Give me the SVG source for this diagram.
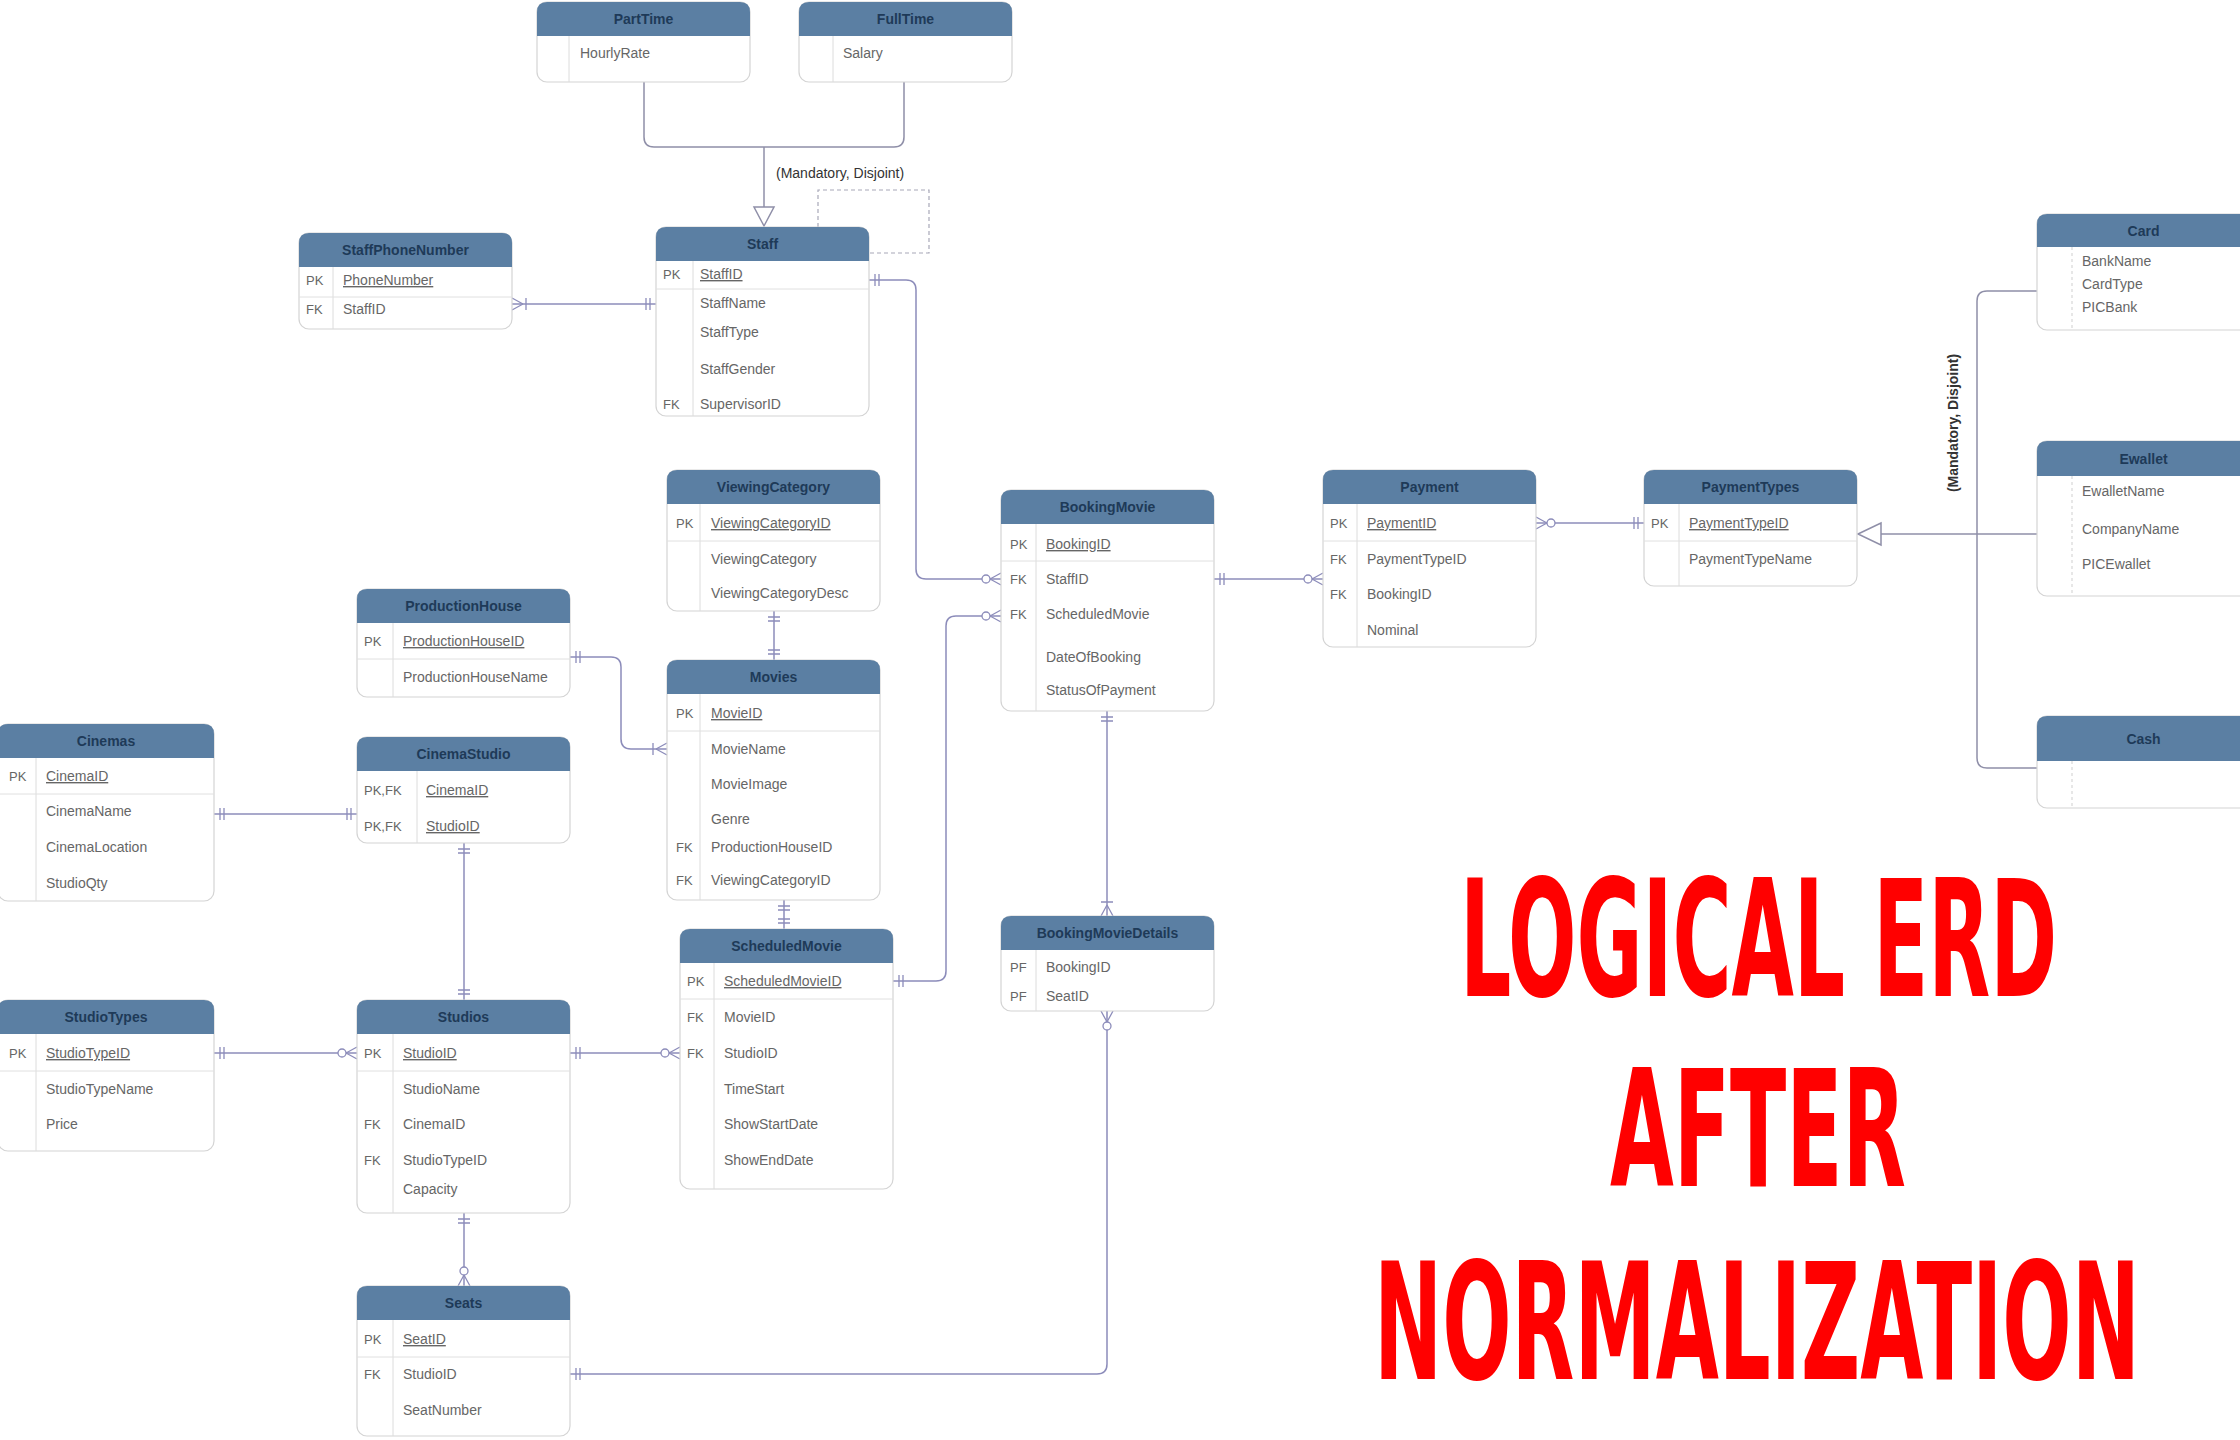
<svg xmlns="http://www.w3.org/2000/svg" width="2240" height="1440" viewBox="0 0 2240 1440">
<style>
.box{fill:#fff;stroke:#d4d4d4;stroke-width:1.2}
.hdr{fill:#5b7fa3}
.t{font-family:"Liberation Sans",Arial,sans-serif;font-size:14px;font-weight:bold;fill:#1e3a58;text-anchor:middle}
.a{font-family:"Liberation Sans",Arial,sans-serif;font-size:14px;fill:#666}
.k{font-family:"Liberation Sans",Arial,sans-serif;font-size:13px;fill:#666}
.u{text-decoration:underline}
.dv{stroke:#dcdcdc;stroke-width:1}
.dd{stroke:#cfcfcf;stroke-width:1;stroke-dasharray:3 3}
.sep{stroke:#e0e0e0;stroke-width:1}
.c{fill:none;stroke:#8c8cba;stroke-width:1.5}
.g{fill:none;stroke:#8f8fa8;stroke-width:1.5}
.dash{fill:none;stroke:#a8a8b8;stroke-width:1.2;stroke-dasharray:4 3}
.lbl{font-family:"Liberation Sans",Arial,sans-serif;font-size:14px;fill:#333}
.big{font-family:"DejaVu Sans Condensed","DejaVu Sans",sans-serif;font-weight:bold;font-size:162px;fill:#ff0000}
</style>
<defs>
<marker id="one" viewBox="-24 -10 26 20" refX="0" refY="0" markerWidth="26" markerHeight="20" markerUnits="userSpaceOnUse" orient="auto-start-reverse">
<path d="M-6,-6V6M-10,-6V6" stroke="#8c8cba" stroke-width="1.3" fill="none"/>
</marker>
<marker id="crowbar" viewBox="-24 -10 26 20" refX="0" refY="0" markerWidth="26" markerHeight="20" markerUnits="userSpaceOnUse" orient="auto-start-reverse">
<path d="M-11,0L0,-6M-11,0L0,6M-14,-6V6" stroke="#8c8cba" stroke-width="1.3" fill="none"/>
</marker>
<marker id="crowcircle" viewBox="-24 -10 26 20" refX="0" refY="0" markerWidth="26" markerHeight="20" markerUnits="userSpaceOnUse" orient="auto-start-reverse">
<path d="M-11,0L0,-6M-11,0L0,6" stroke="#8c8cba" stroke-width="1.3" fill="none"/>
<circle cx="-15" cy="0" r="4" fill="#fff" stroke="#8c8cba" stroke-width="1.3"/>
</marker>
</defs>
<rect x="0" y="0" width="2240" height="1440" fill="#fff"/>

<g id="connectors">
<path class="c" d="M656,304 H512" marker-start="url(#one)" marker-end="url(#crowbar)"/>
<path class="c" d="M869,280 H906 Q916,280 916,290 V569 Q916,579 926,579 H1001" marker-start="url(#one)" marker-end="url(#crowcircle)"/>
<path class="c" d="M774,611 V660" marker-start="url(#one)" marker-end="url(#one)"/>
<path class="c" d="M570,657 H611 Q621,657 621,667 V739 Q621,749 631,749 H667" marker-start="url(#one)" marker-end="url(#crowbar)"/>
<path class="c" d="M214,814 H357" marker-start="url(#one)" marker-end="url(#one)"/>
<path class="c" d="M464,843 V1000" marker-start="url(#one)" marker-end="url(#one)"/>
<path class="c" d="M214,1053 H357" marker-start="url(#one)" marker-end="url(#crowcircle)"/>
<path class="c" d="M570,1053 H680" marker-start="url(#one)" marker-end="url(#crowcircle)"/>
<path class="c" d="M464,1213 V1286" marker-start="url(#one)" marker-end="url(#crowcircle)"/>
<path class="c" d="M784,900 V929" marker-start="url(#one)" marker-end="url(#one)"/>
<path class="c" d="M893,981 H936 Q946,981 946,971 V626 Q946,616 956,616 H1001" marker-start="url(#one)" marker-end="url(#crowcircle)"/>
<path class="c" d="M1107,711 V916" marker-start="url(#one)" marker-end="url(#crowbar)"/>
<path class="c" d="M570,1374 H1097 Q1107,1374 1107,1364 V1011" marker-start="url(#one)" marker-end="url(#crowcircle)"/>
<path class="c" d="M1214,579 H1323" marker-start="url(#one)" marker-end="url(#crowcircle)"/>
<path class="c" d="M1644,523 H1536" marker-start="url(#one)" marker-end="url(#crowcircle)"/>
<path class="g" d="M644,82 V137 Q644,147 654,147 H894 Q904,147 904,137 V82"/>
<path class="g" d="M764,147 V207"/>
<polygon points="754,207 774,207 764,226" fill="#fff" stroke="#8f8fa8" stroke-width="1.5"/>
<path class="dash" d="M818,227 V190 H929 V253 H869"/>
<text class="lbl" x="776" y="178">(Mandatory, Disjoint)</text>
<path class="g" d="M1881,534 H2037"/>
<path class="g" d="M2037,291 H1987 Q1977,291 1977,301 V758 Q1977,768 1987,768 H2037"/>
<polygon points="1858,534 1881,523 1881,545" fill="#fff" stroke="#8f8fa8" stroke-width="1.5"/>
<text class="lbl" transform="translate(1958,423) rotate(-90)" text-anchor="middle" font-weight="bold">(Mandatory, Disjoint)</text>
</g>

<g id="parttime">
<rect class="box" x="537" y="2" width="213" height="80" rx="10"/>
<path class="hdr" d="M537,36 V12 Q537,2 547,2 H740 Q750,2 750,12 V36 Z"/>
<text class="t" x="643.5" y="24">PartTime</text>
<line class="dv" x1="569" y1="36" x2="569" y2="82"/>
<text class="a" x="580" y="58">HourlyRate</text>
</g>

<g id="fulltime">
<rect class="box" x="799" y="2" width="213" height="80" rx="10"/>
<path class="hdr" d="M799,36 V12 Q799,2 809,2 H1002 Q1012,2 1012,12 V36 Z"/>
<text class="t" x="905.5" y="24">FullTime</text>
<line class="dv" x1="833" y1="36" x2="833" y2="82"/>
<text class="a" x="843" y="58">Salary</text>
</g>

<g id="staff">
<rect class="box" x="656" y="227" width="213" height="189" rx="10"/>
<path class="hdr" d="M656,261 V237 Q656,227 666,227 H859 Q869,227 869,237 V261 Z"/>
<text class="t" x="762.5" y="249">Staff</text>
<line class="dv" x1="693" y1="261" x2="693" y2="416"/>
<line class="sep" x1="656" y1="289" x2="869" y2="289"/>
<text class="k" x="663" y="279">PK</text><text class="a u" x="700" y="279">StaffID</text>
<text class="a" x="700" y="308">StaffName</text>
<text class="a" x="700" y="337">StaffType</text>
<text class="a" x="700" y="374">StaffGender</text>
<text class="k" x="663" y="409">FK</text><text class="a" x="700" y="409">SupervisorID</text>
</g>

<g id="staffphonenumber">
<rect class="box" x="299" y="233" width="213" height="96" rx="10"/>
<path class="hdr" d="M299,267 V243 Q299,233 309,233 H502 Q512,233 512,243 V267 Z"/>
<text class="t" x="405.5" y="255">StaffPhoneNumber</text>
<line class="dv" x1="333" y1="267" x2="333" y2="329"/>
<line class="sep" x1="299" y1="297" x2="512" y2="297"/>
<text class="k" x="306" y="285">PK</text><text class="a u" x="343" y="285">PhoneNumber</text>
<text class="k" x="306" y="314">FK</text><text class="a" x="343" y="314">StaffID</text>
</g>

<g id="viewingcategory">
<rect class="box" x="667" y="470" width="213" height="141" rx="10"/>
<path class="hdr" d="M667,504 V480 Q667,470 677,470 H870 Q880,470 880,480 V504 Z"/>
<text class="t" x="773.5" y="492">ViewingCategory</text>
<line class="dv" x1="700" y1="504" x2="700" y2="611"/>
<line class="sep" x1="667" y1="541" x2="880" y2="541"/>
<text class="k" x="676" y="528">PK</text><text class="a u" x="711" y="528">ViewingCategoryID</text>
<text class="a" x="711" y="564">ViewingCategory</text>
<text class="a" x="711" y="598">ViewingCategoryDesc</text>
</g>

<g id="movies">
<rect class="box" x="667" y="660" width="213" height="240" rx="10"/>
<path class="hdr" d="M667,694 V670 Q667,660 677,660 H870 Q880,660 880,670 V694 Z"/>
<text class="t" x="773.5" y="682">Movies</text>
<line class="dv" x1="700" y1="694" x2="700" y2="900"/>
<line class="sep" x1="667" y1="731" x2="880" y2="731"/>
<text class="k" x="676" y="718">PK</text><text class="a u" x="711" y="718">MovieID</text>
<text class="a" x="711" y="754">MovieName</text>
<text class="a" x="711" y="789">MovieImage</text>
<text class="a" x="711" y="824">Genre</text>
<text class="k" x="676" y="852">FK</text><text class="a" x="711" y="852">ProductionHouseID</text>
<text class="k" x="676" y="885">FK</text><text class="a" x="711" y="885">ViewingCategoryID</text>
</g>

<g id="productionhouse">
<rect class="box" x="357" y="589" width="213" height="108" rx="10"/>
<path class="hdr" d="M357,623 V599 Q357,589 367,589 H560 Q570,589 570,599 V623 Z"/>
<text class="t" x="463.5" y="611">ProductionHouse</text>
<line class="dv" x1="393" y1="623" x2="393" y2="697"/>
<line class="sep" x1="357" y1="659" x2="570" y2="659"/>
<text class="k" x="364" y="646">PK</text><text class="a u" x="403" y="646">ProductionHouseID</text>
<text class="a" x="403" y="682">ProductionHouseName</text>
</g>

<g id="cinemas">
<rect class="box" x="-2" y="724" width="216" height="177" rx="10"/>
<path class="hdr" d="M-2,758 V734 Q-2,724 8,724 H204 Q214,724 214,734 V758 Z"/>
<text class="t" x="106" y="746">Cinemas</text>
<line class="dv" x1="36" y1="758" x2="36" y2="901"/>
<line class="sep" x1="-2" y1="794" x2="214" y2="794"/>
<text class="k" x="9" y="781">PK</text><text class="a u" x="46" y="781">CinemaID</text>
<text class="a" x="46" y="816">CinemaName</text>
<text class="a" x="46" y="852">CinemaLocation</text>
<text class="a" x="46" y="888">StudioQty</text>
</g>

<g id="cinemastudio">
<rect class="box" x="357" y="737" width="213" height="106" rx="10"/>
<path class="hdr" d="M357,771 V747 Q357,737 367,737 H560 Q570,737 570,747 V771 Z"/>
<text class="t" x="463.5" y="759">CinemaStudio</text>
<line class="dv" x1="417" y1="771" x2="417" y2="843"/>
<text class="k" x="364" y="795">PK,FK</text><text class="a u" x="426" y="795">CinemaID</text>
<text class="k" x="364" y="831">PK,FK</text><text class="a u" x="426" y="831">StudioID</text>
</g>

<g id="studiotypes">
<rect class="box" x="-2" y="1000" width="216" height="151" rx="10"/>
<path class="hdr" d="M-2,1034 V1010 Q-2,1000 8,1000 H204 Q214,1000 214,1010 V1034 Z"/>
<text class="t" x="106" y="1022">StudioTypes</text>
<line class="dv" x1="36" y1="1034" x2="36" y2="1151"/>
<line class="sep" x1="-2" y1="1071" x2="214" y2="1071"/>
<text class="k" x="9" y="1058">PK</text><text class="a u" x="46" y="1058">StudioTypeID</text>
<text class="a" x="46" y="1094">StudioTypeName</text>
<text class="a" x="46" y="1129">Price</text>
</g>

<g id="studios">
<rect class="box" x="357" y="1000" width="213" height="213" rx="10"/>
<path class="hdr" d="M357,1034 V1010 Q357,1000 367,1000 H560 Q570,1000 570,1010 V1034 Z"/>
<text class="t" x="463.5" y="1022">Studios</text>
<line class="dv" x1="393" y1="1034" x2="393" y2="1213"/>
<line class="sep" x1="357" y1="1071" x2="570" y2="1071"/>
<text class="k" x="364" y="1058">PK</text><text class="a u" x="403" y="1058">StudioID</text>
<text class="a" x="403" y="1094">StudioName</text>
<text class="k" x="364" y="1129">FK</text><text class="a" x="403" y="1129">CinemaID</text>
<text class="k" x="364" y="1165">FK</text><text class="a" x="403" y="1165">StudioTypeID</text>
<text class="a" x="403" y="1194">Capacity</text>
</g>

<g id="scheduledmovie">
<rect class="box" x="680" y="929" width="213" height="260" rx="10"/>
<path class="hdr" d="M680,963 V939 Q680,929 690,929 H883 Q893,929 893,939 V963 Z"/>
<text class="t" x="786.5" y="951">ScheduledMovie</text>
<line class="dv" x1="714" y1="963" x2="714" y2="1189"/>
<line class="sep" x1="680" y1="999" x2="893" y2="999"/>
<text class="k" x="687" y="986">PK</text><text class="a u" x="724" y="986">ScheduledMovieID</text>
<text class="k" x="687" y="1022">FK</text><text class="a" x="724" y="1022">MovieID</text>
<text class="k" x="687" y="1058">FK</text><text class="a" x="724" y="1058">StudioID</text>
<text class="a" x="724" y="1094">TimeStart</text>
<text class="a" x="724" y="1129">ShowStartDate</text>
<text class="a" x="724" y="1165">ShowEndDate</text>
</g>

<g id="seats">
<rect class="box" x="357" y="1286" width="213" height="150" rx="10"/>
<path class="hdr" d="M357,1320 V1296 Q357,1286 367,1286 H560 Q570,1286 570,1296 V1320 Z"/>
<text class="t" x="463.5" y="1308">Seats</text>
<line class="dv" x1="393" y1="1320" x2="393" y2="1436"/>
<line class="sep" x1="357" y1="1357" x2="570" y2="1357"/>
<text class="k" x="364" y="1344">PK</text><text class="a u" x="403" y="1344">SeatID</text>
<text class="k" x="364" y="1379">FK</text><text class="a" x="403" y="1379">StudioID</text>
<text class="a" x="403" y="1415">SeatNumber</text>
</g>

<g id="bookingmovie">
<rect class="box" x="1001" y="490" width="213" height="221" rx="10"/>
<path class="hdr" d="M1001,524 V500 Q1001,490 1011,490 H1204 Q1214,490 1214,500 V524 Z"/>
<text class="t" x="1107.5" y="512">BookingMovie</text>
<line class="dv" x1="1036" y1="524" x2="1036" y2="711"/>
<line class="sep" x1="1001" y1="561" x2="1214" y2="561"/>
<text class="k" x="1010" y="549">PK</text><text class="a u" x="1046" y="549">BookingID</text>
<text class="k" x="1010" y="584">FK</text><text class="a" x="1046" y="584">StaffID</text>
<text class="k" x="1010" y="619">FK</text><text class="a" x="1046" y="619">ScheduledMovie</text>
<text class="a" x="1046" y="662">DateOfBooking</text>
<text class="a" x="1046" y="695">StatusOfPayment</text>
</g>

<g id="bookingmoviedetails">
<rect class="box" x="1001" y="916" width="213" height="95" rx="10"/>
<path class="hdr" d="M1001,950 V926 Q1001,916 1011,916 H1204 Q1214,916 1214,926 V950 Z"/>
<text class="t" x="1107.5" y="938">BookingMovieDetails</text>
<line class="dv" x1="1036" y1="950" x2="1036" y2="1011"/>
<text class="k" x="1010" y="972">PF</text><text class="a" x="1046" y="972">BookingID</text>
<text class="k" x="1010" y="1001">PF</text><text class="a" x="1046" y="1001">SeatID</text>
</g>

<g id="payment">
<rect class="box" x="1323" y="470" width="213" height="177" rx="10"/>
<path class="hdr" d="M1323,504 V480 Q1323,470 1333,470 H1526 Q1536,470 1536,480 V504 Z"/>
<text class="t" x="1429.5" y="492">Payment</text>
<line class="dv" x1="1357" y1="504" x2="1357" y2="647"/>
<line class="sep" x1="1323" y1="541" x2="1536" y2="541"/>
<text class="k" x="1330" y="528">PK</text><text class="a u" x="1367" y="528">PaymentID</text>
<text class="k" x="1330" y="564">FK</text><text class="a" x="1367" y="564">PaymentTypeID</text>
<text class="k" x="1330" y="599">FK</text><text class="a" x="1367" y="599">BookingID</text>
<text class="a" x="1367" y="635">Nominal</text>
</g>

<g id="paymenttypes">
<rect class="box" x="1644" y="470" width="213" height="116" rx="10"/>
<path class="hdr" d="M1644,504 V480 Q1644,470 1654,470 H1847 Q1857,470 1857,480 V504 Z"/>
<text class="t" x="1750.5" y="492">PaymentTypes</text>
<line class="dv" x1="1679" y1="504" x2="1679" y2="586"/>
<line class="sep" x1="1644" y1="541" x2="1857" y2="541"/>
<text class="k" x="1651" y="528">PK</text><text class="a u" x="1689" y="528">PaymentTypeID</text>
<text class="a" x="1689" y="564">PaymentTypeName</text>
</g>

<g id="card">
<rect class="box" x="2037" y="214" width="213" height="116" rx="10"/>
<path class="hdr" d="M2037,247 V224 Q2037,214 2047,214 H2240 Q2250,214 2250,224 V247 Z"/>
<text class="t" x="2143.5" y="236">Card</text>
<line class="dd" x1="2072" y1="247" x2="2072" y2="330"/>
<text class="a" x="2082" y="266">BankName</text>
<text class="a" x="2082" y="289">CardType</text>
<text class="a" x="2082" y="312">PICBank</text>
</g>

<g id="ewallet">
<rect class="box" x="2037" y="441" width="213" height="155" rx="10"/>
<path class="hdr" d="M2037,476 V451 Q2037,441 2047,441 H2240 Q2250,441 2250,451 V476 Z"/>
<text class="t" x="2143.5" y="464">Ewallet</text>
<line class="dd" x1="2072" y1="476" x2="2072" y2="596"/>
<text class="a" x="2082" y="496">EwalletName</text>
<text class="a" x="2082" y="534">CompanyName</text>
<text class="a" x="2082" y="569">PICEwallet</text>
</g>

<g id="cash">
<rect class="box" x="2037" y="716" width="213" height="92" rx="10"/>
<path class="hdr" d="M2037,761 V726 Q2037,716 2047,716 H2240 Q2250,716 2250,726 V761 Z"/>
<text class="t" x="2143.5" y="744">Cash</text>
<line class="dd" x1="2072" y1="761" x2="2072" y2="808"/>
</g>

<g id="title">
<text class="big" x="1460" y="996" textLength="597" lengthAdjust="spacingAndGlyphs">LOGICAL ERD</text>
<text class="big" x="1610" y="1186" textLength="296" lengthAdjust="spacingAndGlyphs">AFTER</text>
<text class="big" x="1374" y="1379" textLength="766" lengthAdjust="spacingAndGlyphs">NORMALIZATION</text>
</g>
</svg>
